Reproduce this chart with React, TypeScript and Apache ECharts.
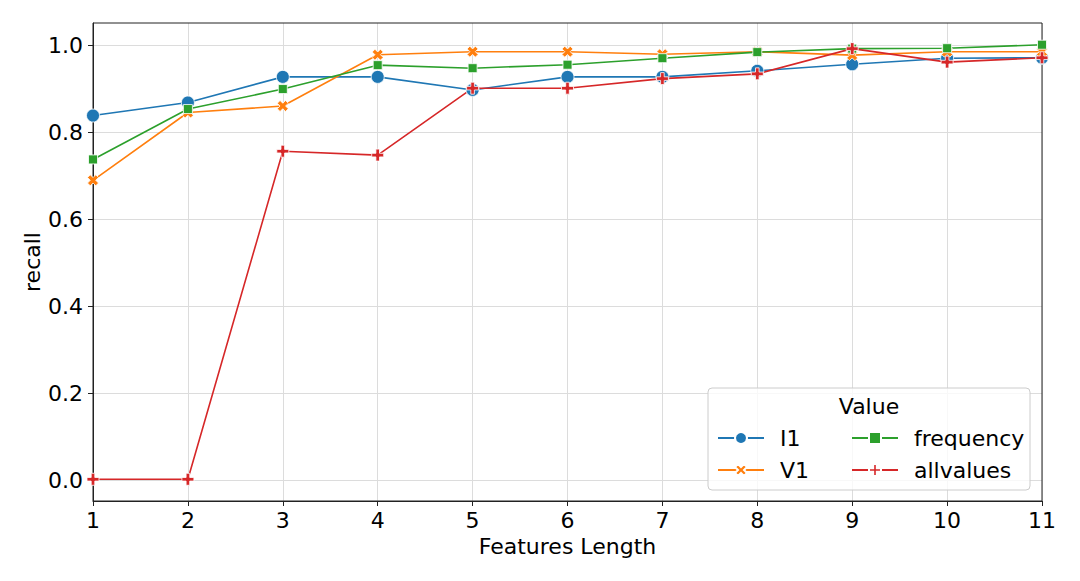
import React, { useEffect, useRef } from "react";
import * as echarts from "echarts";

const featureLengths = [1, 2, 3, 4, 5, 6, 7, 8, 9, 10, 11];
const i1Values = [0.837, 0.867, 0.926, 0.926, 0.896, 0.926, 0.926, 0.940, 0.955, 0.969, 0.970];
const v1Values = [0.688, 0.844, 0.859, 0.977, 0.984, 0.984, 0.978, 0.984, 0.976, 0.984, 0.984];
const frequencyValues = [0.736, 0.852, 0.898, 0.953, 0.946, 0.954, 0.969, 0.983, 0.991, 0.992, 1.0];
const allvaluesValues = [0.0, 0.0, 0.755, 0.746, 0.900, 0.900, 0.922, 0.933, 0.991, 0.960, 0.970];
const yTicks = [0, 0.2, 0.4, 0.6, 0.8, 1.0];

const seriesNames = ["I1", "V1", "frequency", "allvalues"];
const seriesColors = ["#1f77b4", "#ff7f0e", "#2ca02c", "#d62728"];

const X_SYMBOL = "path://M2.5,0 L5,2.5 L7.5,0 L10,2.5 L7.5,5 L10,7.5 L7.5,10 L5,7.5 L2.5,10 L0,7.5 L2.5,5 L0,2.5 Z";
const PLUS_SYMBOL = "path://M3.5,0 H6.5 V3.5 H10 V6.5 H6.5 V10 H3.5 V6.5 H0 V3.5 H3.5 Z";

const FONT = "DejaVu Sans";

export default function App() {
  const ref = useRef<HTMLDivElement>(null);
  useEffect(() => {
    if (!ref.current) return;
    const chart = echarts.init(ref.current, undefined, { renderer: "svg" });
    const valueSets = [i1Values, v1Values, frequencyValues, allvaluesValues];
    const symbols = ["circle", X_SYMBOL, "rect", PLUS_SYMBOL];
    const sizes = [13, 11, 9, 12];
    const series = seriesNames.map((name, i) => ({
      name,
      type: "line",
      xAxisIndex: 0,
      yAxisIndex: 0,
      data: featureLengths.map((x, j) => [x, valueSets[i][j]]),
      symbol: symbols[i],
      symbolSize: sizes[i],
      showSymbol: true,
      lineStyle: { color: seriesColors[i], width: 1.6 },
      itemStyle: { color: seriesColors[i], borderColor: "#ffffff", borderWidth: 0.8 },
      z: 2,
    }));
    const legendCommon = {
      orient: "vertical",
      itemWidth: 46,
      itemHeight: 15,
      itemGap: 10,
      padding: 0,
      z: 6,
      textStyle: { fontFamily: FONT, fontSize: 22, color: "#000", lineHeight: 22, padding: [0, 0, 0, 11] },
    };
    chart.setOption({
      animation: false,
      backgroundColor: "#ffffff",
      textStyle: { fontFamily: FONT },
      grid: [
        { left: 93, right: 38, top: 23, bottom: 80, show: true, borderColor: "#222", borderWidth: 1, backgroundColor: "transparent", z: 1 },
        { left: 93, right: 38, top: 45, bottom: 101, show: false },
      ],
      xAxis: [
        {
          type: "value",
          gridIndex: 0,
          min: 1,
          max: 11,
          interval: 1,
          name: "Features Length",
          nameLocation: "middle",
          nameGap: 33,
          nameTextStyle: { fontFamily: FONT, fontSize: 22, color: "#000" },
          axisLine: { show: true, onZero: false, lineStyle: { color: "#222", width: 1 } },
          axisTick: { show: true, inside: false, length: 5, lineStyle: { color: "#222" } },
          axisLabel: { fontFamily: FONT, fontSize: 22, color: "#000", margin: 8 },
          splitLine: { show: true, lineStyle: { color: "#dcdcdc", width: 1 } },
        },
        { type: "value", gridIndex: 1, min: 1, max: 11, show: false },
      ],
      yAxis: [
        {
          type: "value",
          gridIndex: 0,
          min: -0.05,
          max: 1.05,
          name: "recall",
          nameLocation: "middle",
          nameGap: 50,
          nameTextStyle: { fontFamily: FONT, fontSize: 22, color: "#000" },
          axisLine: { show: true, onZero: false, lineStyle: { color: "#222", width: 1 } },
          axisTick: { show: false },
          axisLabel: { show: false },
          splitLine: { show: false },
        },
        {
          type: "value",
          gridIndex: 1,
          min: yTicks[0],
          max: yTicks[yTicks.length - 1],
          interval: 0.2,
          axisLine: { show: false },
          axisTick: { show: true, inside: false, length: 5, lineStyle: { color: "#222" } },
          axisLabel: {
            fontFamily: FONT,
            fontSize: 22,
            color: "#000",
            margin: 10,
            formatter: (v: number) => v.toFixed(1),
          },
          splitLine: { show: true, lineStyle: { color: "#dcdcdc", width: 1 } },
        },
      ],
      legend: [
        { ...legendCommon, left: 717, top: 427, data: ["I1", "V1"] },
        { ...legendCommon, left: 851, top: 427, data: ["frequency", "allvalues"] },
      ],
      graphic: [
        {
          type: "rect",
          z: 5,
          shape: { x: 708, y: 388, width: 322, height: 102, r: 4 },
          style: { fill: "rgba(255,255,255,0.8)", stroke: "#cccccc", lineWidth: 1 },
        },
        {
          type: "text",
          z: 6,
          x: 869,
          y: 406,
          style: { text: "Value", fontFamily: FONT, fontSize: 22, fill: "#000", align: "center", verticalAlign: "middle" },
        },
      ],
      series,
    });
    return () => chart.dispose();
  }, []);
  return <div ref={ref} style={{ position: "absolute", left: 0, top: 0, width: 1080, height: 581 }} />;
}
